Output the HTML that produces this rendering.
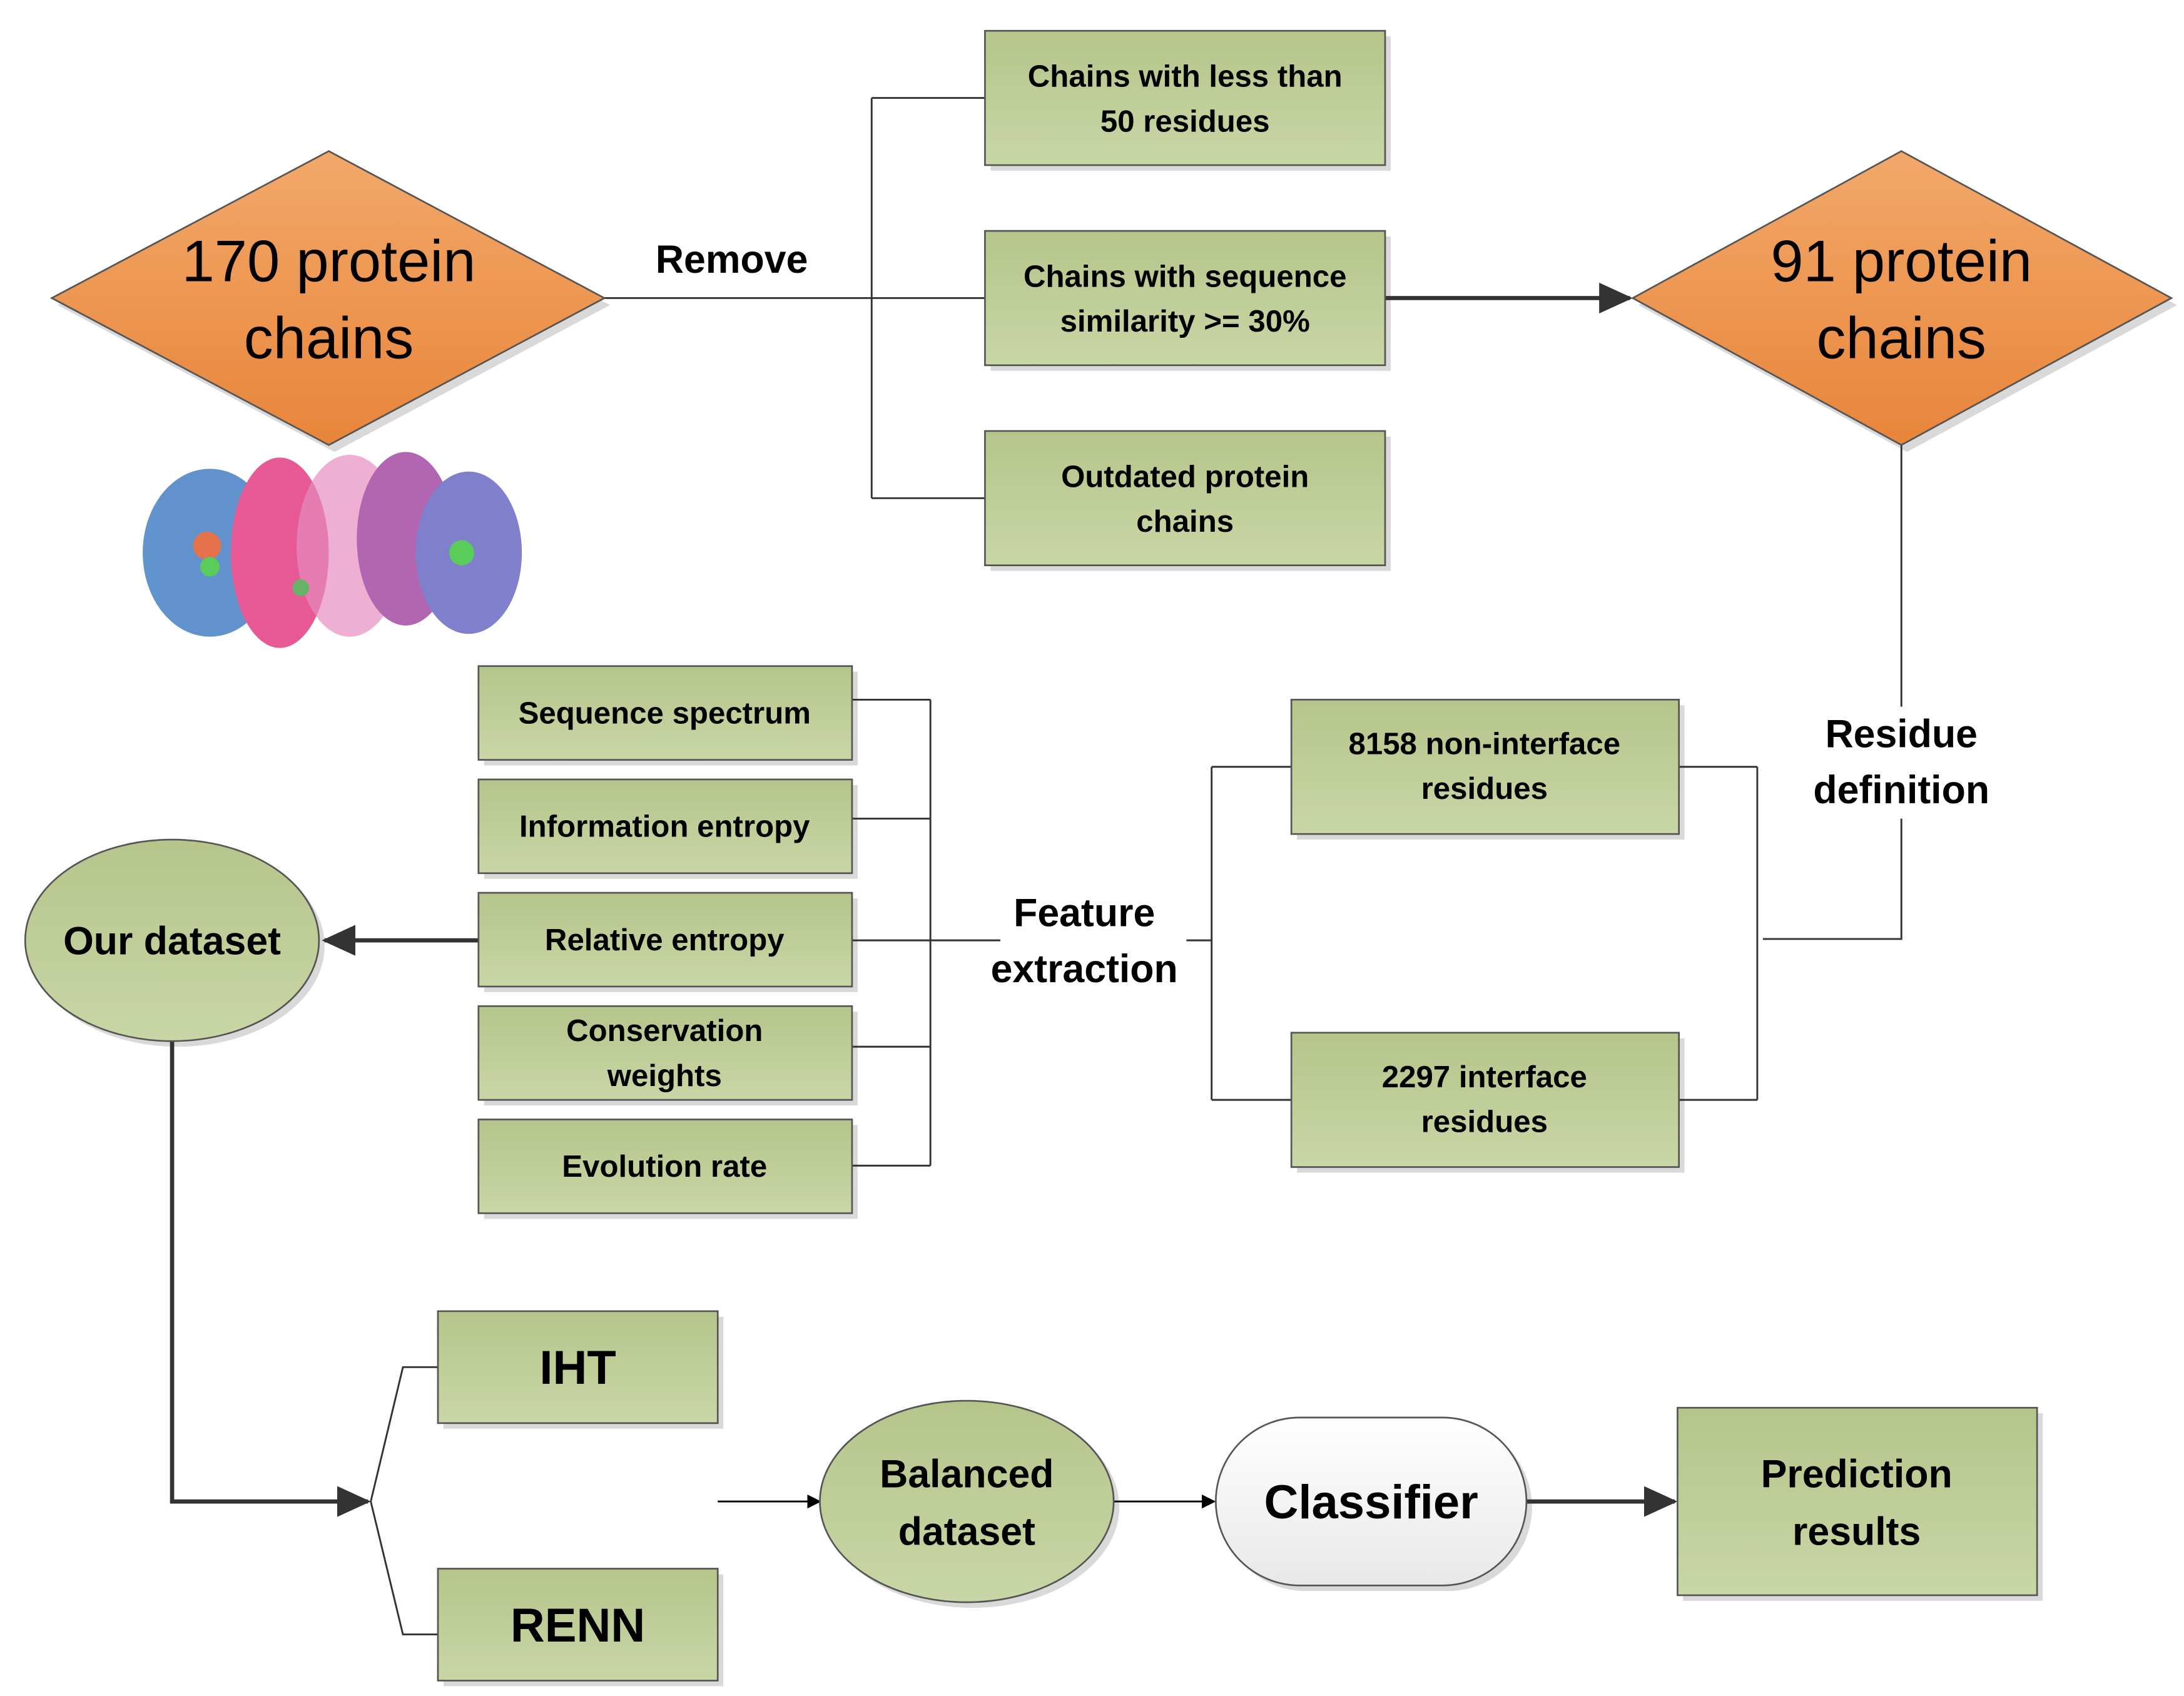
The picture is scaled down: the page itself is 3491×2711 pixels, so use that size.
<!DOCTYPE html>
<html><head><meta charset="utf-8"><style>
html,body{margin:0;padding:0;background:#fff;}
svg{display:block;}
text{font-family:"Liberation Sans",sans-serif;font-weight:bold;fill:#000;text-anchor:middle;}
</style></head><body>
<svg width="3491" height="2711" viewBox="0 0 1561 1212" preserveAspectRatio="none" xmlns="http://www.w3.org/2000/svg">
<defs>
<linearGradient id="gr" x1="0" y1="0" x2="0" y2="1"><stop offset="0" stop-color="#b5c58a"/><stop offset="1" stop-color="#c9d6a6"/></linearGradient>
<linearGradient id="or" x1="0" y1="0" x2="0" y2="1"><stop offset="0" stop-color="#f2a86a"/><stop offset="1" stop-color="#e8853a"/></linearGradient>
<linearGradient id="wh" x1="0" y1="0" x2="0" y2="1"><stop offset="0" stop-color="#ffffff"/><stop offset="1" stop-color="#e8e8e8"/></linearGradient>
<marker id="ah" markerWidth="10" markerHeight="10" refX="9" refY="5" orient="auto" markerUnits="userSpaceOnUse"><path d="M0,0 L10,5 L0,10 z" fill="#000"/></marker>
<marker id="ahb" markerWidth="24" markerHeight="22" refX="22" refY="11" orient="auto" markerUnits="userSpaceOnUse"><path d="M0,0 L24,11 L0,22 z" fill="#333"/></marker>
</defs>

<g fill="#d9d9d9">
<polygon points="41,218 239,113 436,218 239,323"/>
<polygon points="1171,218 1363,113 1556,218 1363,323"/>
<rect x="708" y="26" width="286" height="96"/><rect x="708" y="169" width="286" height="96"/><rect x="708" y="312" width="286" height="96"/>
<rect x="927" y="504" width="277" height="96"/><rect x="927" y="742" width="277" height="96"/>
<rect x="346" y="480" width="267" height="67"/><rect x="346" y="561" width="267" height="67"/><rect x="346" y="642" width="267" height="67"/><rect x="346" y="723" width="267" height="67"/><rect x="346" y="804" width="267" height="67"/>
<ellipse cx="127" cy="676" rx="105" ry="72"/><ellipse cx="695" cy="1077" rx="105" ry="72"/>
<rect x="317" y="941" width="200" height="80"/><rect x="317" y="1125" width="200" height="80"/>
<rect x="873" y="1017" width="222" height="120" rx="60"/>
<rect x="1203" y="1010" width="257" height="134"/>
</g>

<g stroke="#333" stroke-width="1.3" fill="none">
<path d="M432,213 H704 M623,70 V356 M623,70 H704 M623,356 H704"/>
<path d="M1359,318 V505 M1359,585 V671 H1260"/>
<path d="M1256,548 V786 M1200,548 H1256 M1200,786 H1256"/>
<path d="M866,548 V786 M866,548 H923 M866,786 H923 M848,672 H866"/>
<path d="M609,672 H715"/>
<path d="M665,500 V833 M609,500 H665 M609,585 H665 M609,748 H665 M609,833 H665"/>
<path d="M265,1073 L288,977 H313 M265,1073 L288,1168 H313"/>
</g>
<g stroke="#333" stroke-width="3" fill="none">
<path d="M990,213 H1165" marker-end="url(#ahb)"/>
<path d="M342,672 H232" marker-end="url(#ahb)"/>
<path d="M123,744 V1073 H263" marker-end="url(#ahb)"/>
<path d="M1091,1073 H1197" marker-end="url(#ahb)"/>
</g>
<g stroke="#000" stroke-width="1.3" fill="none">
<path d="M513,1073 H586" marker-end="url(#ah)"/>
<path d="M796,1073 H868" marker-end="url(#ah)"/>
</g>

<g stroke="#555" stroke-width="1.2">
<polygon points="37,213 235,108 432,213 235,318" fill="url(#or)"/>
<polygon points="1167,213 1359,108 1552,213 1359,318" fill="url(#or)"/>
<rect x="704" y="22" width="286" height="96" fill="url(#gr)"/><rect x="704" y="165" width="286" height="96" fill="url(#gr)"/><rect x="704" y="308" width="286" height="96" fill="url(#gr)"/>
<rect x="923" y="500" width="277" height="96" fill="url(#gr)"/><rect x="923" y="738" width="277" height="96" fill="url(#gr)"/>
<rect x="342" y="476" width="267" height="67" fill="url(#gr)"/><rect x="342" y="557" width="267" height="67" fill="url(#gr)"/><rect x="342" y="638" width="267" height="67" fill="url(#gr)"/><rect x="342" y="719" width="267" height="67" fill="url(#gr)"/><rect x="342" y="800" width="267" height="67" fill="url(#gr)"/>
<ellipse cx="123" cy="672" rx="105" ry="72" fill="url(#gr)"/><ellipse cx="691" cy="1073" rx="105" ry="72" fill="url(#gr)"/>
<rect x="313" y="937" width="200" height="80" fill="url(#gr)"/><rect x="313" y="1121" width="200" height="80" fill="url(#gr)"/>
<rect x="869" y="1013" width="222" height="120" rx="60" fill="url(#wh)"/>
<rect x="1199" y="1006" width="257" height="134" fill="url(#gr)"/>
</g>

<g opacity="0.8">
<ellipse cx="150" cy="395" rx="48" ry="60" fill="#3a78c0"/>
<ellipse cx="200" cy="395" rx="35" ry="68" fill="#e0307a"/>
<ellipse cx="250" cy="390" rx="38" ry="65" fill="#e070b0" opacity="0.7"/>
<ellipse cx="290" cy="385" rx="35" ry="62" fill="#a040a0"/>
<ellipse cx="335" cy="395" rx="38" ry="58" fill="#6060c0"/>
<circle cx="148" cy="390" r="10" fill="#e05020"/><circle cx="150" cy="405" r="7" fill="#30c030"/>
<circle cx="330" cy="395" r="9" fill="#30c030"/><circle cx="215" cy="420" r="6" fill="#40a040"/>
</g>

<text x="235" y="201" font-size="42" style="font-weight:normal">170 protein</text>
<text x="235" y="256" font-size="42" style="font-weight:normal">chains</text>
<text x="1359" y="201" font-size="42" style="font-weight:normal">91 protein</text>
<text x="1359" y="256" font-size="42" style="font-weight:normal">chains</text>
<text x="523" y="195" font-size="28">Remove</text>
<g font-size="22">
<text x="847" y="62">Chains with less than</text><text x="847" y="94">50 residues</text>
<text x="847" y="205">Chains with sequence</text><text x="847" y="237">similarity &gt;=  30%</text>
<text x="847" y="348">Outdated protein</text><text x="847" y="380">chains</text>
<text x="1061" y="539">8158 non-interface</text><text x="1061" y="571">residues</text>
<text x="1061" y="777">2297 interface</text><text x="1061" y="809">residues</text>
<text x="475" y="517">Sequence spectrum</text>
<text x="475" y="598">Information entropy</text>
<text x="475" y="679">Relative entropy</text>
<text x="475" y="744">Conservation</text><text x="475" y="776">weights</text>
<text x="475" y="841">Evolution rate</text>
</g>
<text x="1359" y="534" font-size="28">Residue</text>
<text x="1359" y="574" font-size="28">definition</text>
<text x="775" y="662" font-size="28">Feature</text>
<text x="775" y="702" font-size="28">extraction</text>
<text x="123" y="682" font-size="28">Our dataset</text>
<text x="413" y="989" font-size="34">IHT</text>
<text x="413" y="1173" font-size="34">RENN</text>
<text x="691" y="1063" font-size="28">Balanced</text>
<text x="691" y="1104" font-size="28">dataset</text>
<text x="980" y="1085" font-size="34">Classifier</text>
<text x="1327" y="1063" font-size="28">Prediction</text>
<text x="1327" y="1104" font-size="28">results</text>
</svg>
</body></html>
